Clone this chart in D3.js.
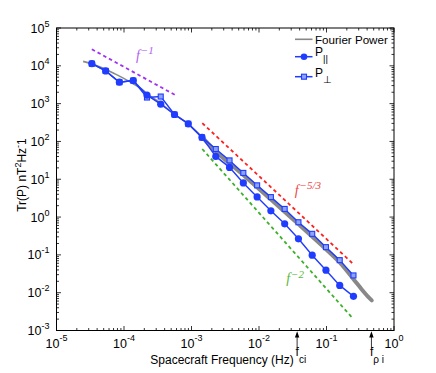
<!DOCTYPE html>
<html><head><meta charset="utf-8">
<script src="https://cdn.jsdelivr.net/npm/d3@7"></script>
<style>
html,body{margin:0;padding:0;background:#fff;}
text{font-family:"Liberation Sans",Arial,Helvetica,sans-serif;}
</style></head>
<body>
<svg id="chart" width="436" height="373"></svg>
<script>
// ---------- data ----------
const freq = [3.34e-5,5.35e-5,8.55e-5,1.37e-4,2.19e-4,3.50e-4,5.60e-4,8.95e-4,1.43e-3,2.29e-3,
              3.66e-3,5.86e-3,9.38e-3,0.0150,0.0240,0.0384,0.0614,0.0982,0.157,0.251];
const pPar = [11400,7330,3690,4070,1680,970,515,293,128,40.2,
              20.6,7.98,3.41,1.46,0.662,0.266,0.098,0.0394,0.0156,0.0080];
const pPerp = [11400,7330,3690,4070,1450,1540,515,293,128,63,
               31.5,14.7,6.9,3.37,1.64,0.729,0.360,0.160,0.0725,0.0286];
const fourierF = [2.48e-5,4.43e-5,7.38e-5,1.23e-4,1.73e-4,2.43e-4,3.42e-4,5.51e-4,8.87e-4,1.43e-3,
                  2.23e-3,5.78e-3,0.0145,0.0376,0.0975,0.157,0.253,0.333,0.408,0.468];
const fourierP = [13100,9350,6110,3760,2610,1607,1050,538,293,133,
                  56.9,13.2,3.08,0.673,0.143,0.063,0.0224,0.0122,0.0080,0.00627];
// reference power laws: [f0, P0, f1, P1]
const guideM1  = [3.34e-5, 2.74e4, 5.7e-4, 1.70e3];
const guideM53 = [1.445e-3, 305, 0.247, 0.0582];
const guideM2  = [1.445e-3, 63.1, 0.247, 2.06e-3];
const xTickExps = [-5,-4,-3,-2,-1,0];
const yTickExps = [-3,-2,-1,0,1,2,3,4,5];
const fCi = 0.0367, fRhoI = 0.463;

// ---------- setup ----------
const svg = d3.select("#chart");
const L = 56.5, R = 394, T = 28, B = 330.5;
const x = d3.scaleLog().domain([1e-5,1]).range([L,R]);
const y = d3.scaleLog().domain([1e-3,1e5]).range([B,T]);

const blue = "#1f3cff";

// ---------- guide lines ----------
function guide(g, color){
  svg.append("line")
    .attr("x1", x(g[0])).attr("y1", y(g[1]))
    .attr("x2", x(g[2])).attr("y2", y(g[3]))
    .attr("stroke", color).attr("stroke-width", 1.8)
    .attr("stroke-dasharray", "3.5,3");
}
guide(guideM1, "#a030f5");
guide(guideM53, "#ff1f1f");
guide(guideM2, "#3cb02a");

// ---------- Fourier power ----------
const fp = fourierF.map((f,i)=>[f, fourierP[i]]);
const lineGen = d3.line().x(d=>x(d[0])).y(d=>y(d[1])).curve(d3.curveCatmullRom);
svg.append("path").datum(fp.slice(0,10)).attr("d", lineGen)
  .attr("fill","none").attr("stroke","#8a8a8a").attr("stroke-width",1.6);
svg.append("path").datum(fp.slice(9)).attr("d", lineGen)
  .attr("fill","none").attr("stroke","#888").attr("stroke-width",4)
  .attr("stroke-linecap","round");

// ---------- series ----------
const perp = freq.map((f,i)=>[f,pPerp[i]]);
const par = freq.map((f,i)=>[f,pPar[i]]);
const lin = d3.line().x(d=>x(d[0])).y(d=>y(d[1]));
svg.append("path").datum(perp).attr("d", lin).attr("fill","none")
  .attr("stroke",blue).attr("stroke-width",1.4);
svg.append("path").datum(par).attr("d", lin).attr("fill","none")
  .attr("stroke",blue).attr("stroke-width",1.4);
svg.selectAll("rect.sq").data(perp).enter().append("rect").attr("class","sq")
  .attr("x", d=>x(d[0])-2.5).attr("y", d=>y(d[1])-2.5)
  .attr("width",5).attr("height",5)
  .attr("fill","#8ea2ff").attr("stroke",blue).attr("stroke-width",1.1);
svg.selectAll("circle.ci").data(par).enter().append("circle").attr("class","ci")
  .attr("cx", d=>x(d[0])).attr("cy", d=>y(d[1])).attr("r",3.6)
  .attr("fill",blue);

// ---------- guide labels ----------
function powLabel(px, py, sup, color){
  const t = svg.append("text").attr("x",px).attr("y",py).attr("fill",color)
    .style("font-family","'Liberation Serif','Times New Roman',serif")
    .style("font-style","italic").style("font-size","14px");
  t.append("tspan").text("f");
  t.append("tspan").attr("dx",1).attr("dy",-5.5).style("font-size","11px").text(sup);
}
powLabel(x(1.50e-4), y(1.45e4), "\u22121", "#b060f2");
powLabel(x(0.0338), y(3.95), "\u22125/3", "#e84848");
powLabel(x(0.0253), y(0.0176), "\u22122", "#58b83a");

// ---------- axes box & ticks ----------
svg.append("rect").attr("x",L).attr("y",T).attr("width",R-L).attr("height",B-T)
  .attr("fill","none").attr("stroke","#000").attr("stroke-width",1);
const ax = svg.append("g").attr("stroke","#000").attr("stroke-width",0.8);
xTickExps.forEach(k=>{
  for(let m=1;m<=9;m++){
    const v = m*Math.pow(10,k);
    if(v>1.0001) break;
    const len = m===1?4.5:2.5, px = x(v);
    ax.append("line").attr("x1",px).attr("x2",px).attr("y1",B).attr("y2",B-len);
    ax.append("line").attr("x1",px).attr("x2",px).attr("y1",T).attr("y2",T+len);
  }
});
yTickExps.forEach(k=>{
  for(let m=1;m<=9;m++){
    const v = m*Math.pow(10,k);
    if(v>1.0001e5) break;
    const len = m===1?4.5:2.5, py = y(v);
    ax.append("line").attr("x1",L).attr("x2",L+len).attr("y1",py).attr("y2",py);
    ax.append("line").attr("x1",R).attr("x2",R-len).attr("y1",py).attr("y2",py);
  }
});
xTickExps.forEach(k=>{
  const t = svg.append("text").attr("x", x(Math.pow(10,k))).attr("y",348)
    .attr("text-anchor","middle").style("font-size","12.5px");
  t.append("tspan").text("10");
  t.append("tspan").attr("dy",-7).style("font-size","9px").text(String(k));
});
yTickExps.forEach(k=>{
  const t = svg.append("text").attr("x", 49.5).attr("y", y(Math.pow(10,k))+4.5)
    .attr("text-anchor","end").style("font-size","12.5px");
  t.append("tspan").text("10");
  t.append("tspan").attr("dy",-6).style("font-size","9px").text(String(k));
});

// axis titles
svg.append("text").attr("x",222).attr("y",364).attr("text-anchor","middle")
  .style("font-size","12px").text("Spacecraft Frequency (Hz)");
const yt = svg.append("text").attr("transform","translate(25.5,175) rotate(-90)")
  .attr("text-anchor","middle").style("font-size","12px");
yt.append("tspan").text("Tr(P) nT");
yt.append("tspan").attr("dy",-5).style("font-size","9px").text("2");
yt.append("tspan").attr("dy",5).text("Hz");
yt.append("tspan").attr("dy",-5).style("font-size","9px").text("-");
yt.append("tspan").attr("dy",5).text("1");

// ---------- frequency markers ----------
function marker(f, sub){
  const px = x(f);
  svg.append("line").attr("x1",px).attr("x2",px).attr("y1",348).attr("y2",334)
    .attr("stroke","#000").attr("stroke-width",0.8);
  svg.append("path").attr("d",`M${px-2.2},${337.5}L${px},${331.2}L${px+2.2},${337.5}Z`)
    .attr("fill","#000");
  const t = svg.append("text").attr("x",px-1.5).attr("y",355.5).style("font-size","12px");
  t.append("tspan").text("f");
  t.append("tspan").attr("dy",7).style("font-size","10px").text(sub);
}
marker(fCi, "ci");
marker(fRhoI, "\u03c1 i");

// ---------- legend ----------
const lg = svg.append("g");
lg.append("line").attr("x1",295).attr("x2",312.5).attr("y1",39.3).attr("y2",39.3)
  .attr("stroke","#888").attr("stroke-width",1.6);
lg.append("text").attr("x",315).attr("y",44).style("font-size","11.6px").text("Fourier Power");
lg.append("line").attr("x1",295).attr("x2",312.5).attr("y1",56.7).attr("y2",56.7)
  .attr("stroke",blue).attr("stroke-width",1.5);
lg.append("circle").attr("cx",304).attr("cy",56.7).attr("r",3.3).attr("fill",blue);
const t1 = lg.append("text").attr("x",315).attr("y",55.5).style("font-size","12px");
t1.append("tspan").text("P");
t1.append("tspan").attr("dy",6.5).style("font-size","9.5px").text("||");
lg.append("line").attr("x1",295).attr("x2",312.5).attr("y1",76.7).attr("y2",76.7)
  .attr("stroke",blue).attr("stroke-width",1.5);
lg.append("rect").attr("x",301.5).attr("y",74.2).attr("width",5).attr("height",5)
  .attr("fill","#8ea2ff").attr("stroke",blue).attr("stroke-width",1.1);
const t2 = lg.append("text").attr("x",315).attr("y",77).style("font-size","12px");
t2.append("tspan").text("P");
t2.append("tspan").attr("dy",5.5).style("font-size","9.5px").text("\u22a5");
</script>
</body></html>
